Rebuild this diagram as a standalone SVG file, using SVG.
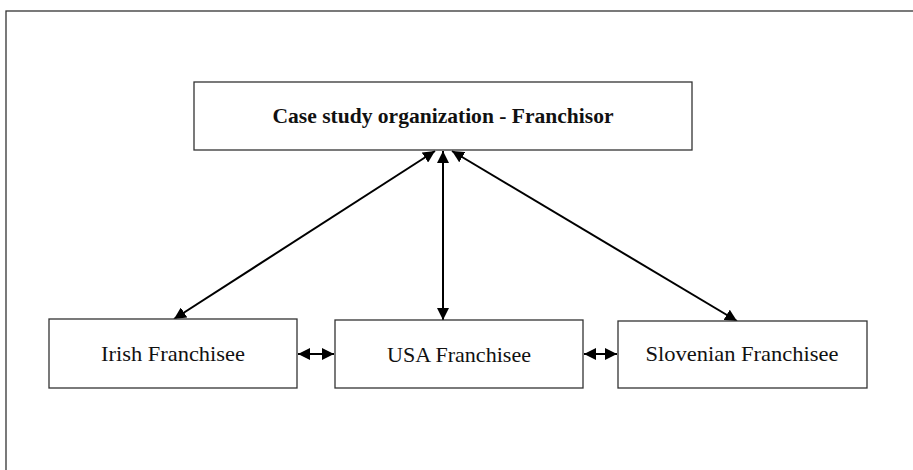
<svg xmlns="http://www.w3.org/2000/svg" width="913" height="470" viewBox="0 0 913 470">
<style>
.box{fill:#fff;stroke:#333;stroke-width:1.3}
.t{font-family:"Liberation Serif","DejaVu Serif",serif;fill:#111;text-anchor:middle;font-size:21px}
.c{stroke:#000;stroke-width:2;fill:none;marker-start:url(#ah);marker-end:url(#ah)}
</style>
<defs>
<marker id="ah" viewBox="0 0 10 10" refX="10" refY="5" markerWidth="6" markerHeight="6" orient="auto-start-reverse" markerUnits="strokeWidth">
<path d="M0,0 L10,5 L0,10 z" fill="#000"/>
</marker>
</defs>
<rect x="0" y="0" width="913" height="470" fill="#fff"/>
<rect x="6" y="11" width="920" height="480" fill="none" stroke="#333" stroke-width="1.3"/>
<g id="connectors">
<line class="c" x1="435" y1="151" x2="174" y2="319"/>
<line class="c" x1="443" y1="151" x2="443" y2="320"/>
<line class="c" x1="452" y1="151" x2="737" y2="321"/>
<line class="c" x1="298" y1="354" x2="334" y2="354"/>
<line class="c" x1="584" y1="354" x2="617" y2="354"/>
</g>
<g id="franchisor">
<rect class="box" x="194" y="82" width="498" height="68"/>
<text class="t" x="443" y="123" font-weight="bold" textLength="341" lengthAdjust="spacingAndGlyphs">Case study organization - Franchisor</text>
</g>
<g id="irish">
<rect class="box" x="49" y="319" width="248" height="69"/>
<text class="t" x="173" y="361" textLength="144" lengthAdjust="spacingAndGlyphs">Irish Franchisee</text>
</g>
<g id="usa">
<rect class="box" x="335" y="320" width="248" height="68"/>
<text class="t" x="459" y="362" textLength="144" lengthAdjust="spacingAndGlyphs">USA Franchisee</text>
</g>
<g id="slovenian">
<rect class="box" x="618" y="321" width="249" height="67"/>
<text class="t" x="742" y="361" textLength="193" lengthAdjust="spacingAndGlyphs">Slovenian Franchisee</text>
</g>
</svg>
